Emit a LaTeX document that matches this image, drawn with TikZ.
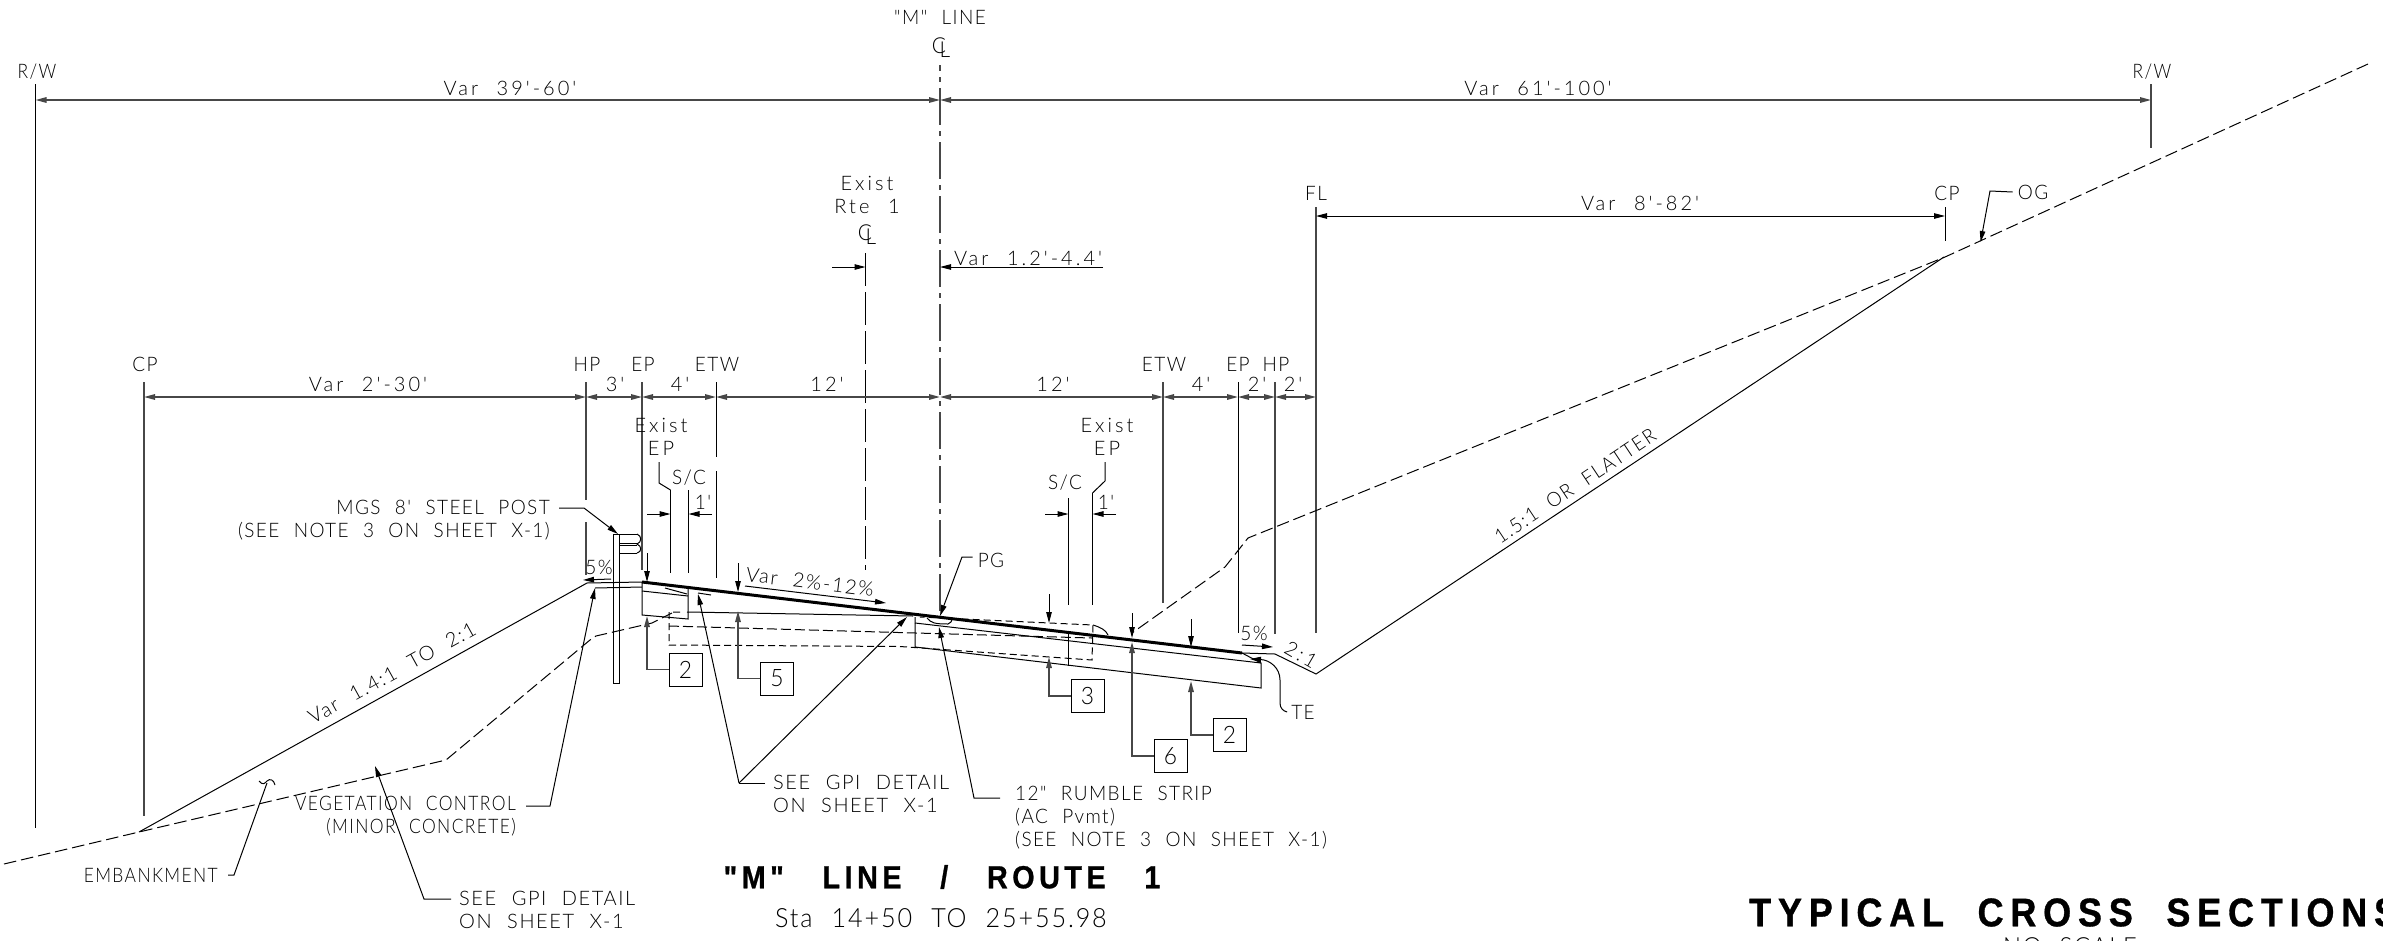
\documentclass[tikz,border=0pt]{standalone}
\usepackage{fontspec}
\usetikzlibrary{arrows.meta}
\newfontfamily\cadf[LetterSpace=7,WordSpace=2.2,FakeStretch=0.95]{Lato Light}
\newfontfamily\cadd[LetterSpace=15,WordSpace=2.2]{Lato Light}
\newfontfamily\cadg[LetterSpace=8,WordSpace=2.2]{Lato Light}
\newfontfamily\cadn[LetterSpace=7,WordSpace=2.2,FakeStretch=0.87]{Lato Light}
\newfontfamily\ttlf[LetterSpace=14,WordSpace=3.1,FakeStretch=0.9,FakeBold=0.8]{Liberation Sans Bold}
\newfontfamily\ttlg[LetterSpace=17,WordSpace=2.0,FakeStretch=0.9,FakeBold=0.8]{Liberation Sans Bold}
\newcommand{\clsym}{\fontsize{22}{22}\selectfont C\kern-6.5pt\raisebox{-4pt}{L}}
\tikzset{
  lab/.style={font=\cadf\fontsize{20}{20}\selectfont,inner sep=0pt,text=black},
  labd/.style={lab,font=\cadd\fontsize{20}{20}\selectfont},
  labg/.style={lab,align=left,font=\cadg\fontsize{20}{20}\selectfont},
  labn/.style={lab,align=right,font=\cadn\fontsize{20}{20}\selectfont},
  labl/.style={lab,align=left},
  labr/.style={lab,align=right},
  numbox/.style={draw,line width=1pt,minimum width=33pt,minimum height=33pt,inner sep=0pt,font=\cadf\fontsize{24}{24}\selectfont},
  ln/.style={line width=1pt,black},
  gl/.style={line width=1.5pt,black!72},
  tipa/.tip={Stealth[length=11pt,width=5.5pt,inset=0pt]},
  ar/.style={ln,-{tipa}},
  dim/.style={gl,{tipa}-{tipa}},
  ds/.style={ln,dash pattern=on 12.5pt off 5pt},
  cline/.style={gl,dash pattern=on 37pt off 6pt on 5pt off 6pt},
  pave/.style={line width=3pt,black}
}
\begin{document}
\begin{tikzpicture}[x=1pt,y=-1pt]
\useasboundingbox (0,0) rectangle (2383,940);
\clip (0,0) rectangle (2383,940);
% named dimension stations
\foreach \n/\x in {cpl/144,hpl/586,epl/642,etl/716,cl/940,etr/1163,epr/1238,hpr/1275,fl/1316}
  \coordinate (d\n) at (\x,397);
\coordinate (rwl) at (35.5,100); \coordinate (rwr) at (2151,100); \coordinate (mcl) at (940,100);
\coordinate (flt) at (1316,216); \coordinate (cpt) at (1945,216);
\coordinate (rcl) at (865.5,267); \coordinate (mcv) at (940,267);
% top labels
\node[lab] (tm) at (940,17) {"M" LINE};
\node[lab] (tmc) at (941,48) {\clsym};
\node[labn] (trl) at (37,72) {R/W};
\node[labn] (trr) at (2152,72) {R/W};
\node[labd] (t3960) at (510,88) {Var 39'-60'};
\node[labd] (t61100) at (1538,88) {Var 61'-100'};
\node[lab] (tfl) at (1316,193) {FL};
\node[lab] (tcp) at (1947,193) {CP};
\node[labd] (t882) at (1640,203) {Var 8'-82'};
\node[lab] (tog) at (2033,192) {OG};
\node[labd,align=center] (trte) at (867,194.5) {Exist\\[3pt]Rte 1};
\node[lab] (trtc) at (867,235) {\clsym};
\node[labd] (tv12) at (1028,258) {Var 1.2'-4.4'};
% right of way
\draw[ln] (35.5,84) -- (35.5,828);
\draw[gl] (2151,84) -- (2151,148);
\draw[gl,{tipa}-{tipa}] (rwl) -- (mcl);
\draw[gl,{tipa}-{tipa}] (mcl) -- (rwr);
\draw[cline,dash phase=31pt] (940,65) -- (940,613);
\draw[ln,dash pattern=on 33pt off 6pt] (865.5,253) -- (865.5,570);
\draw[ar] (832,267) -- (rcl);
\draw[ar] (1103,267) -- (mcv);
% FL / CP upper dim
\draw[gl] (1316,207) -- (1316,633);
\draw[ln] (1945,207) -- (1945,241);
\draw[ln,{tipa}-{tipa}] (flt) -- (cpt);
\draw[ar] (tog.west)+(-5,0) -- (1990,191) -- (1980.6,242);
% dim row
\draw[dim] (dcpl) -- (dhpl);
\draw[dim] (dhpl) -- (depl);
\draw[dim] (depl) -- (detl);
\draw[dim] (detl) -- (dcl);
\draw[dim] (dcl) -- (detr);
\draw[dim] (detr) -- (depr);
\draw[dim] (depr) -- (dhpr);
\draw[dim] (dhpr) -- (dfl);
% ticks
\draw[gl] (144,382) -- (144,816);
\draw[gl] (586,382) -- (586,500) (586,522) -- (586,575);
\draw[gl] (642,382) -- (642,570);
\draw[ln] (716.5,382) -- (716.5,457) (716.5,471) -- (716.5,578);
\draw[ln] (670.5,490) -- (670.5,573);
\draw[ln] (688.5,490) -- (688.5,573);
\draw[gl] (1163,382) -- (1163,603);
\draw[ln] (1238.5,382) -- (1238.5,633);
\draw[gl] (1275,382) -- (1275,634);
\draw[ln] (1068.5,498) -- (1068.5,605);
\draw[ln] (1092.5,493) -- (1092.5,605);
% row labels
\foreach \n/\x/\t in {a/145/CP,b/587/HP,c/643/EP,d/717/ETW,e/1164/ETW,f/1238/EP,g/1276/HP}
  \node[lab] (r\n) at (\x,364) {\t};
\foreach \n/\x/\t in {a/368/Var 2'-30',b/615/3',c/680/4',d/827/12',e/1053/12',f/1201/4',g/1257/2',h/1293/2'}
  \node[labd] (s\n) at (\x,384) {\t};
% exist EP left
\node[labd,align=center] (exl) at (661,437) {Exist\\[3pt]EP};
\node[lab] (scl) at (689,478) {S/C};
\node[lab] (onl) at (703,502) {1'};
\draw[ln] (659,462) -- (659,483) -- (670.5,490);
\draw[ar] (647,514) -- (670.5,514);
\draw[ar] (712,514) -- (688.5,514);
% exist EP right
\node[labd,align=center] (exr) at (1107,437) {Exist\\[3pt]EP};
\node[lab] (scr) at (1065,483) {S/C};
\node[lab] (onr) at (1106,502) {1'};
\draw[ln] (1105,462) -- (1105,481) -- (1092.5,493);
\draw[ar] (1045,514) -- (1068.5,514);
\draw[ar] (1116,514) -- (1092.5,514);
% ground
\draw[ds] (2368,64) -- (1945,257) -- (1248,538) -- (1225,567) -- (1132,633);
\draw[ds] (4,864) -- (139,832) -- (446,760) -- (590,640) -- (596,636) -- (652,623) -- (672,613);
% slopes
\draw[ln] (139,832) -- (587,583) -- (642,582);
\draw[ln] (595,588) -- (642,587);
\draw[ln] (1275,654) -- (1316,674) -- (1944,257);
% pavement
\draw[pave] (642,582) -- (1242,653);
\draw[ln] (1242,653) -- (1275,654);
\draw[ln] (1242,653) -- (1261,663) -- (1261,688) -- (915,647) -- (915,617);
\draw[ln] (915,623) -- (1261,663);
\draw[ln] (1068.5,633) -- (1068.5,666);
\draw[ln] (642,582) -- (642,615) -- (688,619) -- (688,588);
\draw[ln] (642,591) -- (688,596);
\draw[ln] (665,588) -- (687,594);
\draw[ln] (698,593) -- (711,595);
\draw[ln] (687,612) -- (913,616);
\draw[ln,dash pattern=on 7pt off 4pt] (680,612) -- (669,612) -- (669,645) -- (900,646.5) -- (1092,660) -- (1093,625) -- (920,617);
\draw[ln,dash pattern=on 10pt off 4pt] (669,626) -- (1092,638);
\draw[ln] (1093,625) .. controls (1100,627) and (1106,630) .. (1108,635);
\draw[ln] (927,618) .. controls (931,623) and (935,624) .. (948,624) .. controls (951,623) and (952,621) .. (952,619);
% post
\draw[ln] (613,534) rectangle (619,683);
\draw[ln] (619,534) -- (637,534) (619,543) -- (637,543) (619,545) -- (637,545) (619,553) -- (637,553);
\draw[ln] (637,534) .. controls (642,536) and (642,542) .. (637,544) .. controls (642,546) and (642,552) .. (637,553);
% boxes
\node[numbox] (b2l) at (685.5,669.5) {2};
\node[numbox] (b5) at (777,678.5) {5};
\node[numbox] (b3) at (1087.5,696) {3};
\node[numbox] (b6) at (1170.5,756) {6};
\node[numbox] (b2r) at (1229.5,735) {2};
\draw[gl,-{tipa}] (b2l.west) -| (647,616);
\draw[gl,-{tipa}] (b5.west) -| (738,611);
\draw[gl,-{tipa}] (b3.west) -| (1049,657);
\draw[gl,-{tipa}] (b6.west) -| (1132,642);
\draw[gl,-{tipa}] (b2r.west) -| (1191,681);
% thickness arrows
\draw[ar] (647,553) -- (647,582);
\draw[ar] (738,563) -- (738,592);
\draw[ar] (1049,594) -- (1049,623);
\draw[ar] (1132,613) -- (1132,638);
\draw[ar] (1191,619) -- (1191,647);
% slope texts
\node[lab] (p5l) at (599,567) {5\%};
\draw[ar] (611,579) -- (583,580);
\node[labg,rotate=-7] (pvar) at (810,582) {Var 2\%-12\%};
\draw[ar] (745,586) -- (886,603);
\node[lab] (p5r) at (1254,633) {5\%};
\draw[ar] (1242,645) -- (1273,647);
\node[labd,rotate=-30] (p21) at (1301,655) {2:1};
\node[lab,rotate=33.6] (p15) at (1575,486) {1.5:1 OR FLATTER};
\node[labg,rotate=29] (p14) at (392,673) {Var 1.4:1 TO 2:1};
% PG
\node[lab] (pg) at (991,560) {PG};
\draw[ar] (pg.west)+(-5,-3) -- (962,557) -- (940,616);
% TE
\node[lab] (te) at (1303,712) {TE};
\draw[ar] (te.west)+(-4,0) .. controls (1283,711) and (1280,708) .. (1280,703) -- (1280,680) .. controls (1280,668) and (1270,660) .. (1250,659);
% notes
\node[labr,anchor=east] (mgs) at (550,520.5) {MGS 8' STEEL POST\\[3pt](SEE NOTE 3 ON SHEET X-1)};
\draw[ar] (559,508) -- (584,508) -- (618,534);
\node[labn,anchor=east] (veg) at (516,816) {VEGETATION CONTROL\\[3pt](MINOR CONCRETE)};
\draw[ar] (526,806) -- (550,806) -- (595,588);
\node[labn,anchor=east] (emb) at (218,875) {EMBANKMENT};
\draw[ln] (228,875) -- (234,875) -- (267,783);
\draw[ln] (259,781) .. controls (263,786) and (265,783) .. (267,781) .. controls (270,778) and (274,780) .. (275,785);
\node[labg,anchor=west] (gpa) at (459,909.5) {SEE GPI DETAIL\\[3pt]ON SHEET X-1};
\draw[ar] (451,899) -- (424,899) -- (375,766);
\node[labg,anchor=west] (gpb) at (773,793.5) {SEE GPI DETAIL\\[3pt]ON SHEET X-1};
\coordinate (gv) at (739,783);
\draw[ln] (765,783) -- (gv);
\draw[ar] (gv) -- (698,594);
\draw[ar] (gv) -- (907,617);
\node[labl,anchor=west] (rum) at (1015,818) {12" RUMBLE STRIP\\[3pt](AC Pvmt)\\[3pt](SEE NOTE 3 ON SHEET X-1)};
\draw[ar] (1000,798) -- (974,798) -- (939,627);
% titles
\node[inner sep=0pt,font=\ttlf\fontsize{32}{32}\selectfont] (ttl) at (942,877) {"M" LINE / ROUTE 1};
\node[inner sep=0pt,font=\cadf\fontsize{26.5}{26.5}\selectfont] (sta) at (941,918) {Sta 14+50 TO 25+55.98};
\node[inner sep=0pt,anchor=west,font=\ttlg\fontsize{40}{40}\selectfont] (typ) at (1749,912.5) {TYPICAL CROSS SECTIONS};
\node[inner sep=0pt,anchor=north,font=\cadf\fontsize{25}{25}\selectfont] (nos) at (2070,937) {NO SCALE};
\end{tikzpicture}
\end{document}
